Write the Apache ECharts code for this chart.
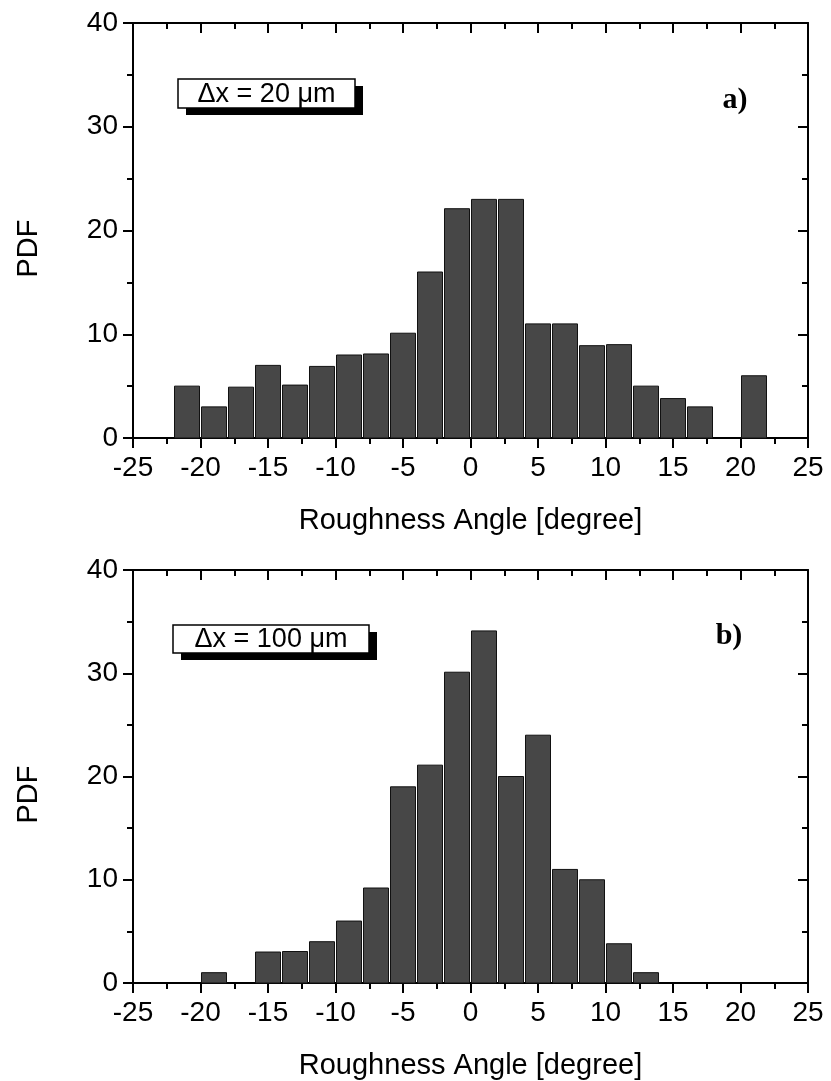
<!DOCTYPE html>
<html>
<head>
<meta charset="utf-8">
<script src="https://cdn.jsdelivr.net/npm/echarts@6/dist/echarts.min.js"></script>
<style>html,body{margin:0;padding:0;background:#fff}#c{width:831px;height:1081px}</style>
</head>
<body>
<div id="c"></div>
<script>
// Bin centres (degrees), bin width 2
const angles = [-21,-19,-17,-15,-13,-11,-9,-7,-5,-3,-1,1,3,5,7,9,11,13,15,17,19,21];
// a) dx = 20 um
const pdfA = [5,3,4.9,7,5.1,6.9,8,8.1,10.1,16,22.1,23,23,11,11,8.9,9,5,3.8,3,0,6];
// b) dx = 100 um
const pdfB = [0,1,0,3,3.05,4,6,9.2,19,21.1,30.1,34.1,20,24,11,10,3.8,1,0,0,0,0];
const xTickInterval = 5;
const yTickInterval = 10;
const labelA = '\u0394x = 20 \u03bcm';
const labelB = '\u0394x = 100 \u03bcm';
const xTitle = 'Roughness Angle [degree]';
const yTitle = 'PDF';

const FONT = '"Liberation Sans", Arial, Helvetica, sans-serif';
const binWidth = 2;

function renderItem(params, api) {
  const x = api.value(0), y = api.value(1);
  if (!y) return null;
  const p0 = api.coord([x - binWidth / 2, y]);
  const p1 = api.coord([x + binWidth / 2, 0]);
  return {
    type: 'rect',
    shape: { x: p0[0] + 1, y: p0[1], width: p1[0] - p0[0] - 2, height: p1[1] - p0[1] },
    style: { fill: '#474747', stroke: '#111', lineWidth: 1 }
  };
}

const lineSt = { color: '#000', width: 2 };
function xAxes(gi) {
  return [
    { gridIndex: gi, type: 'value', min: -25, max: 25, interval: xTickInterval, position: 'bottom',
      axisLine: { onZero: false, lineStyle: lineSt },
      axisTick: { inside: false, length: 10, lineStyle: lineSt },
      minorTick: { show: true, splitNumber: 2, length: 6, lineStyle: lineSt },
      splitLine: { show: false }, minorSplitLine: { show: false },
      axisLabel: { fontSize: 28, color: '#000', margin: 16, fontFamily: FONT },
      name: xTitle, nameLocation: 'middle', nameGap: 68,
      nameTextStyle: { fontSize: 29, color: '#000', fontFamily: FONT } },
    { gridIndex: gi, type: 'value', min: -25, max: 25, interval: xTickInterval, position: 'top',
      axisLine: { onZero: false, lineStyle: lineSt },
      axisTick: { inside: true, length: 10, lineStyle: lineSt },
      minorTick: { show: true, splitNumber: 2, length: 6, lineStyle: lineSt },
      splitLine: { show: false }, axisLabel: { show: false } }
  ];
}
function yAxes(gi) {
  return [
    { gridIndex: gi, type: 'value', min: 0, max: 40, interval: yTickInterval, position: 'left',
      axisLine: { show: true, onZero: false, lineStyle: lineSt },
      axisTick: { show: true, inside: false, length: 10, lineStyle: lineSt },
      minorTick: { show: true, splitNumber: 2, length: 6, lineStyle: lineSt },
      splitLine: { show: false },
      axisLabel: { fontSize: 28, color: '#000', margin: 15, fontFamily: FONT },
      name: yTitle, nameLocation: 'middle', nameGap: 90,
      nameTextStyle: { fontSize: 29, color: '#000', fontFamily: FONT, padding: [0, 36, 0, 0] } },
    { gridIndex: gi, type: 'value', min: 0, max: 40, interval: yTickInterval, position: 'right',
      axisLine: { show: true, onZero: false, lineStyle: lineSt },
      axisTick: { show: true, inside: true, length: 10, lineStyle: lineSt },
      minorTick: { show: true, splitNumber: 2, length: 6, lineStyle: lineSt },
      splitLine: { show: false }, axisLabel: { show: false } }
  ];
}

function legendBox(x, y, w, h, text) {
  return { type: 'group', children: [
    { type: 'rect', shape: { x: x + 8, y: y + 7, width: w, height: h }, style: { fill: '#000' } },
    { type: 'rect', shape: { x: x, y: y, width: w, height: h }, style: { fill: '#fff', stroke: '#000', lineWidth: 1.5 } },
    { type: 'text', x: x + w / 2, y: y + h / 2 + 1, style: { text: text, font: '27px ' + FONT, fill: '#000', align: 'center', verticalAlign: 'middle' } }
  ]};
}

const chart = echarts.init(document.getElementById('c'), null, { renderer: 'canvas' });
chart.setOption({
  animation: false,
  backgroundColor: '#fff',
  grid: [
    { left: 133, right: 23, top: 23, height: 415 },
    { left: 133, right: 23, top: 570, height: 415 }
  ],
  xAxis: xAxes(0).concat(xAxes(1)),
  yAxis: yAxes(0).concat(yAxes(1)),
  series: [
    { type: 'custom', xAxisIndex: 0, yAxisIndex: 0, renderItem, encode: { x: 0, y: 1 },
      data: angles.map((a, i) => [a, pdfA[i]]) },
    { type: 'custom', xAxisIndex: 2, yAxisIndex: 2, renderItem, encode: { x: 0, y: 1 },
      data: angles.map((a, i) => [a, pdfB[i]]) }
  ],
  graphic: [
    legendBox(178, 79, 177, 29, labelA),
    legendBox(173, 625, 196, 28, labelB),
    { type: 'text', x: 735, y: 100, style: { text: 'a)', font: 'bold 30px "Liberation Serif", "Times New Roman", serif', fill: '#000', align: 'center', verticalAlign: 'middle' } },
    { type: 'text', x: 729, y: 636, style: { text: 'b)', font: 'bold 30px "Liberation Serif", "Times New Roman", serif', fill: '#000', align: 'center', verticalAlign: 'middle' } }
  ]
});
</script>
</body>
</html>
